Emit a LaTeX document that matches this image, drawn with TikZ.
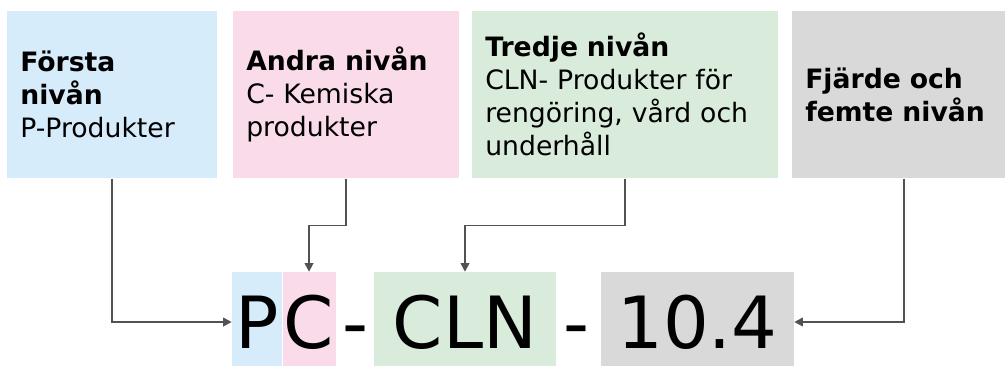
\documentclass[tikz,border=0pt]{standalone}
\usepackage{fontspec}
\setmainfont{DejaVu Sans}
\usetikzlibrary{positioning,arrows.meta}
\definecolor{levelOne}{RGB}{215,236,251}
\definecolor{levelTwo}{RGB}{250,219,234}
\definecolor{levelThree}{RGB}{217,235,219}
\definecolor{levelFour}{RGB}{217,217,217}
\colorlet{penColor}{black!68}
\tikzset{>={Triangle[length=6.5pt,width=6.5pt]}}
\tikzset{
	level/.style={anchor=north west,minimum height=125.25pt,inner xsep=9.75pt,align=left,font=\fontsize{20}{24.75}\selectfont},
	code/.style={minimum height=75pt,inner sep=0pt,text height=39.4pt,text depth=0pt,font=\fontsize{54}{60}\selectfont},
	link/.style={penColor,line width=1.3pt,->}
}
\begin{document}
\begin{tikzpicture}[x=0.75pt,y=-0.75pt]
		\useasboundingbox (0,0) rectangle (1005,365);
		\clip (0,0) rectangle (1005,365);
		\node [level,fill=levelOne,text width=138pt] (first) at (7,11) {\textbf{Första}\\\textbf{nivån}\\P-Produkter};
		\node [level,fill=levelTwo,text width=150pt] (second) at (233,11) {\textbf{Andra nivån}\\C- Kemiska\\produkter};
		\node [level,fill=levelThree,text width=210pt] (third) at (472,11) {\textbf{Tredje nivån}\\CLN- Produkter för\\rengöring, vård och\\underhåll};
		\node [level,fill=levelFour,text width=148.5pt] (fourth) at (792,11) {\textbf{Fjärde och}\\\textbf{femte nivån}};
		\node [code,fill=levelOne,minimum width=37.5pt] (codeP) at (257,322) {P};
		\node [code,fill=levelTwo,minimum width=39.75pt,right=0pt of codeP] (codeC) {C};
		\node [code] (dashA) at (355,322) {-};
		\node [code,fill=levelThree,minimum width=136.5pt] (codeCLN) at (465,322) {CLN};
		\node [code] (dashB) at (576,322) {-};
		\node [code,fill=levelFour,minimum width=144.75pt] (codeNum) at (697.5,322) {10.4};
		\draw [link] (first.south) |- (codeP.west);
		\draw [link] (second.south) -- ++(0,47) -| (codeC.north);
		\draw [link] (third.south) -- ++(0,47) -| (codeCLN.north);
		\draw [link] (fourth.south) |- (codeNum.east);
		\end{tikzpicture}
\end{document}
